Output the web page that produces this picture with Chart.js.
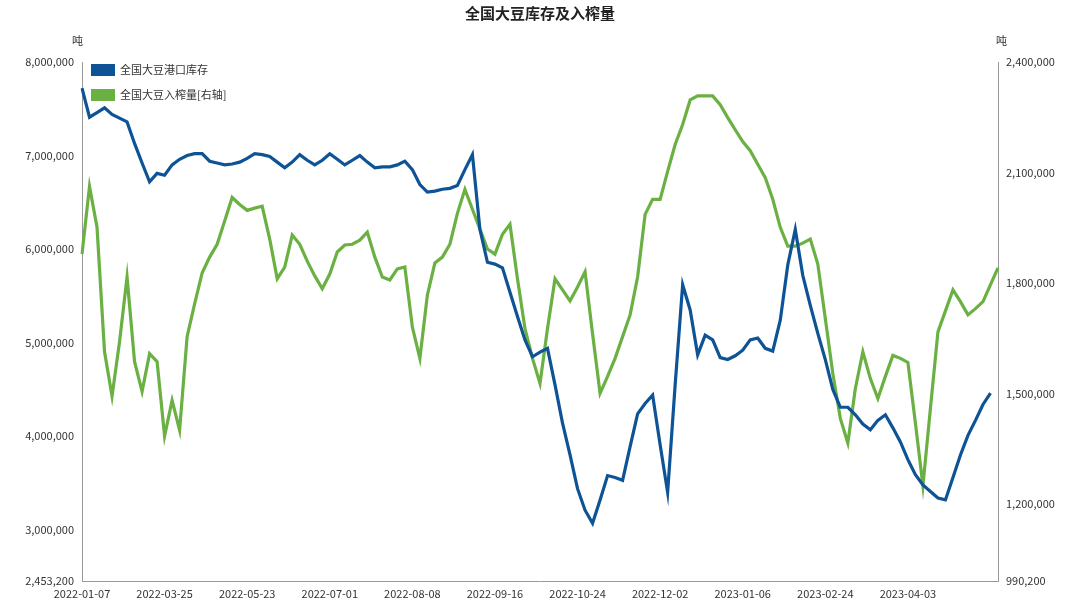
<!DOCTYPE html>
<html><head><meta charset="utf-8">
<script src="https://cdn.jsdelivr.net/npm/chart.js@4/dist/chart.umd.min.js"></script>
<style>
body{margin:0;background:#fff;font-family:"Noto Sans CJK SC",sans-serif;}
#wrap{position:relative;width:1080px;height:607px;}
.t{position:absolute;font-size:11px;color:#333;}
</style></head><body>
<div id="wrap">
<canvas id="c" width="1080" height="607"></canvas>
<div class="t" style="left:0;width:1080px;top:2px;text-align:center;font-size:15px;font-weight:bold;color:#222">全国大豆库存及入榨量</div>
<div class="t" style="left:72px;top:32px">吨</div>
<div class="t" style="left:996px;top:32px">吨</div>
<div style="position:absolute;left:91px;top:64px;width:24px;height:12px;background:#0d5395"></div>
<div class="t" style="left:120px;top:61px">全国大豆港口库存</div>
<div style="position:absolute;left:91px;top:89px;width:24px;height:12px;background:#6ab042"></div>
<div class="t" style="left:120px;top:86px">全国大豆入榨量[右轴]</div>
</div>
<script>
const tickLabels=["2022-01-07","2022-03-25","2022-05-23","2022-07-01","2022-08-08","2022-09-16","2022-10-24","2022-12-02","2023-01-06","2023-02-24","2023-04-03"];
// 港口库存 (百万吨)
const stock=[7.72,7.41,7.46,7.51,7.44,7.40,7.36,7.13,6.92,6.72,6.81,6.79,6.90,6.96,7.00,7.02,7.02,6.94,6.92,6.90,
6.91,6.93,6.97,7.02,7.01,6.99,6.93,6.87,6.93,7.01,6.95,6.90,6.95,7.02,6.96,6.90,6.95,7.00,6.93,6.87,
6.88,6.88,6.90,6.94,6.85,6.69,6.61,6.62,6.64,6.65,6.68,6.85,7.01,6.21,5.86,5.84,5.80,5.54,5.28,5.03,
4.85,4.90,4.94,4.55,4.14,3.80,3.44,3.21,3.07,3.32,3.58,3.56,3.53,3.89,4.24,4.35,4.44,3.91,3.40,4.55,
5.62,5.35,4.87,5.08,5.03,4.84,4.82,4.86,4.92,5.03,5.05,4.94,4.91,5.24,5.83,6.21,5.72,5.40,5.10,4.82,
4.50,4.31,4.31,4.23,4.13,4.07,4.17,4.23,4.09,3.94,3.75,3.59,3.48,3.41,3.34,3.32,3.56,3.80,4.01,4.17,
4.34,4.46,null];
// 入榨量 (千吨)
const crush=[1878,2062,1951,1613,1492,1640,1816,1586,1505,1608,1586,1384,1481,1400,1654,1743,1827,1870,1905,1968,
2032,2013,1997,2003,2008,1919,1811,1843,1930,1905,1859,1819,1784,1824,1884,1903,1905,1916,1938,1870,
1816,1808,1838,1843,1680,1595,1767,1854,1870,1905,1989,2054,2000,1946,1892,1878,1932,1959,1811,1676,
1595,1527,1676,1811,1781,1751,1789,1830,1662,1500,1546,1595,1654,1713,1816,1986,2027,2027,2103,2176,
2230,2297,2308,2308,2308,2284,2249,2216,2184,2159,2122,2086,2027,1951,1900,1900,1908,1919,1851,1703,
1554,1432,1365,1513,1613,1540,1486,1546,1603,1595,1584,1419,1249,1459,1667,1724,1781,1749,1713,1730,
1749,1795,1841];
const leftTicks=[2.4532,3,4,5,6,7,8];
const rightTicks=[990.2,1200,1500,1800,2100,2400];
const categories=crush.map((_,i)=>(i%11===0&&i/11<tickLabels.length)?tickLabels[i/11]:'');
const fmt=v=>Math.round(v).toLocaleString('en-US');
const font={family:'"Noto Sans CJK SC","Noto Sans",sans-serif',size:11};
new Chart(document.getElementById('c'),{
 type:'line',
 data:{labels:categories,datasets:[
  {data:stock,yAxisID:'y',borderColor:'#0d5395',borderWidth:3.2,pointRadius:0,tension:0},
  {data:crush,yAxisID:'y1',borderColor:'#6ab042',borderWidth:3.2,pointRadius:0,tension:0}]},
 options:{responsive:false,animation:false,
  layout:{padding:{top:62,left:0,right:0,bottom:0}},
  plugins:{legend:{display:false},tooltip:{enabled:false}},
  scales:{
   x:{offset:false,grid:{display:false,drawTicks:true,tickLength:4},border:{color:'#999'},
      afterBuildTicks:s=>{s.ticks=s.ticks.filter(t=>categories[t.value]!=='');},
      afterFit:s=>{s.height=26;},
      ticks:{autoSkip:false,maxRotation:0,color:'#333',font,padding:2,callback:(v,i,t)=>categories[t[i].value]}},
   y:{position:'left',min:2.4532,max:8,grid:{display:false,tickLength:4},border:{color:'#999'},
      afterBuildTicks:s=>{s.ticks=leftTicks.map(v=>({value:v}));},
      afterFit:s=>{s.width=82;},
      ticks:{color:'#333',font,padding:4,callback:v=>fmt(v*1e6)}},
   y1:{position:'right',min:990.2,max:2400,grid:{display:false,tickLength:4},border:{color:'#999'},
      afterBuildTicks:s=>{s.ticks=rightTicks.map(v=>({value:v}));},
      afterFit:s=>{s.width=82;},
      ticks:{color:'#333',font,padding:4,callback:v=>fmt(v*1e3)}}
  }}
});
</script></body></html>
